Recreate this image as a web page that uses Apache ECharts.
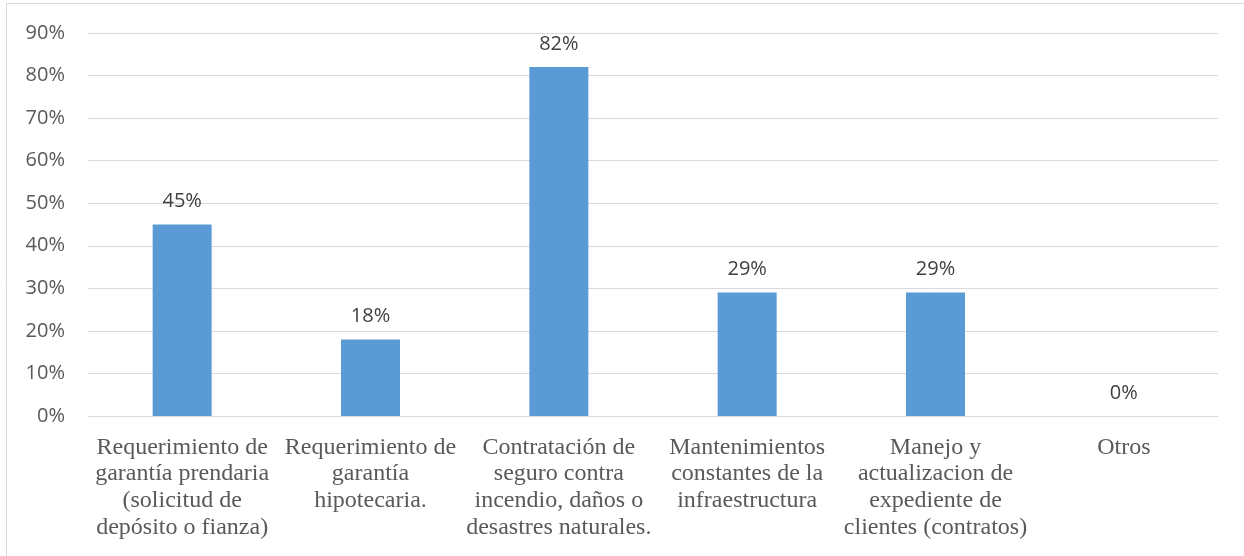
<!DOCTYPE html>
<html>
<head>
<meta charset="utf-8">
<script src="https://cdn.jsdelivr.net/npm/echarts@6/dist/echarts.min.js"></script>
<style>
  html, body { margin: 0; padding: 0; background: #ffffff; }
  #chart { width: 1244px; height: 556px; }
</style>
</head>
<body>
<div id="chart"></div>
<script>
// Categories (line breaks as they wrap under each bar)
const categories = [
  'Requerimiento de\ngarantía prendaria\n(solicitud de\ndepósito o fianza)',
  'Requerimiento de\ngarantía\nhipotecaria.',
  'Contratación de\nseguro contra\nincendio, daños o\ndesastres naturales.',
  'Mantenimientos\nconstantes de la\ninfraestructura',
  'Manejo y\nactualizacion de\nexpediente de\nclientes (contratos)',
  'Otros'
];

// Percentage of responses per category
const percentages = [45, 18, 82, 29, 29, 0];

// Value axis range
const axisMin = 0;
const axisMax = 90;
const axisStep = 10;

const chart = echarts.init(document.getElementById('chart'), null, { renderer: 'canvas' });

chart.setOption({
  backgroundColor: '#ffffff',
  animation: false,
  graphic: [{
    type: 'rect',
    shape: { x: 6.5, y: 3.5, width: 1400, height: 700 },
    style: { fill: 'none', stroke: '#d9d9d9', lineWidth: 1 },
    silent: true
  }],
  grid: { left: 88, right: 26, top: 33, bottom: 140, containLabel: false },
  xAxis: {
    type: 'category',
    data: categories,
    axisLine: { show: true, lineStyle: { color: '#d9d9d9', width: 1 } },
    axisTick: { show: false },
    axisLabel: {
      interval: 0,
      margin: 18,
      color: '#595959',
      fontFamily: '"Liberation Serif", "Times New Roman", serif',
      fontSize: 24,
      lineHeight: 26.7
    }
  },
  yAxis: {
    type: 'value',
    min: axisMin,
    max: axisMax,
    interval: axisStep,
    axisLine: { show: false },
    axisTick: { show: false },
    splitLine: { lineStyle: { color: '#d9d9d9', width: 1 } },
    axisLabel: {
      margin: 23,
      color: '#595959',
      fontFamily: '"Open Sans", sans-serif',
      fontSize: 20,
      formatter: v => v + '%'
    }
  },
  series: [{
    type: 'bar',
    data: percentages,
    barWidth: 59,
    itemStyle: { color: '#5b9bd5' },
    label: {
      show: true,
      position: 'top',
      distance: 13,
      color: '#404040',
      fontFamily: '"Open Sans", sans-serif',
      fontSize: 20,
      formatter: p => p.value + '%'
    }
  }]
});
</script>
</body>
</html>
